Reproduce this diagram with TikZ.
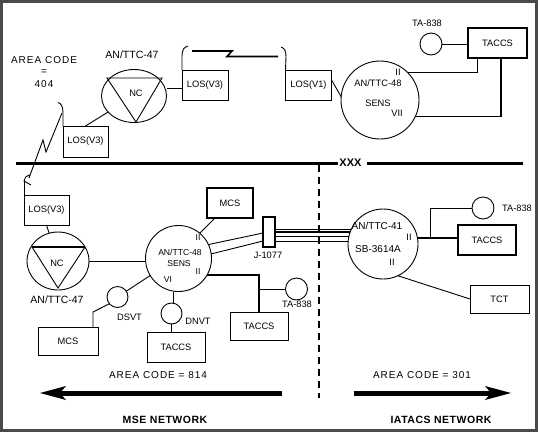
\documentclass[tikz,border=0pt]{standalone}
\usepackage{fontspec}
\setmainfont{Liberation Sans}
\usetikzlibrary{shapes.geometric}
\definecolor{framegray}{HTML}{4A4A4A}
\begin{document}
\begin{tikzpicture}[x=1pt,y=-1pt,
  every node/.style={inner sep=0pt,outer sep=0pt,font=\fontsize{9.3}{10}\selectfont},
  box/.style={draw,line width=0.9pt},
  tbox/.style={draw,line width=1.8pt},
  ring/.style={draw,circle,line width=0.9pt},
  oval/.style={draw,ellipse,line width=0.9pt},
  wire/.style={line width=0.9pt},
  twire/.style={line width=1.8pt},
  big/.style={font=\fontsize{10}{11}\selectfont\addfontfeatures{LetterSpace=10}},
  mid/.style={font=\fontsize{10}{11}\selectfont},
  ttc/.style={font=\fontsize{10.5}{11}\selectfont},
  small/.style={font=\fontsize{8.6}{9}\selectfont},
  net/.style={font=\fontsize{10.5}{12}\selectfont\bfseries\addfontfeatures{LetterSpace=5}}]
\useasboundingbox (0,0) rectangle (538,432);
\fill[white] (0,0) rectangle (538,432);
\draw[framegray,line width=3pt] (1.5,1.5) rectangle (536.5,430.5);

% ---------- upper part ----------
\node[big] (ac1) at (44,60) {AREA CODE};
\node[big] (ac2) at (44,72) {=};
\node[big] (ac3) at (44,84) {404};

\node[oval,minimum width=65pt,minimum height=53pt] (ncA) at (134,96) {};
\draw[wire] ([shift={(-27,-18)}]ncA.center) -- ([shift={(28,-18)}]ncA.center) -- ([shift={(2,26)}]ncA.center) -- cycle;
\node (ncAl) at (136,93) {NC};
\node[ttc] (ncAt) at (132,55) {AN/TTC-47};

\node[box,minimum width=45pt,minimum height=31pt] (losA) at (85.5,141.5) {LOS(V3)};
\node[box,minimum width=46pt,minimum height=30pt] (losB) at (205,85) {LOS(V3)};
\node[box,minimum width=46pt,minimum height=30pt] (losC) at (308.5,85) {LOS(V1)};

\node[ring,minimum size=78pt] (sensA) at (380,100) {};
\node (sAii) at (398,72) {II};
\node (sAn) at (378,83) {AN/TTC-48};
\node (sAs) at (378,103) {SENS};
\node (sAvii) at (397,113) {VII};

\node[ring,minimum size=22pt] (ta1) at (431,44) {};
\node (ta1l) at (427,23) {TA-838};
\node[tbox,minimum width=59pt,minimum height=30pt] (taccsA) at (497.5,43) {TACCS};

\draw[wire] (losA.north) -- (ncA);
\draw[wire] ([yshift=-3pt]losB.west) -- ([yshift=-3pt]losB.west -| ncA.east);
\draw[wire] ([yshift=5pt]losC.east) -- (sensA.175);
\draw[wire] (ta1.east) -- (ta1.east -| taccsA.west);
\draw[wire] (sensA.45) -| ([xshift=-20.5pt]taccsA.south);
\draw[twire] (sensA.-25) -| ([xshift=3.5pt]taccsA.south);

% radio link between the upper LOS(V3) and LOS(V1)
\draw[wire] (losB.north west) -- (182,56) .. controls (182,50) and (184,47) .. (188,46);
\draw[line width=1.6pt] (192,51) -- (232,51) -- (227,56.5) -- (278,56.5);
\draw[wire] (281,47) .. controls (285,48) and (286,52) .. (286,57) -- (losC.north west);

% ---------- divider ----------
\node[font=\fontsize{11}{12}\selectfont\bfseries] (xxx) at (350.5,163) {XXX};
\coordinate (dL) at (16,163.5);
\coordinate (dR) at (523,163.5);
\draw[line width=2.4pt] (dL) -- ([xshift=-1pt]dL -| xxx.west);
\draw[line width=2.4pt] (dR) -- ([xshift=5pt]dR -| xxx.east);
\coordinate (vT) at (319,165);
\coordinate (vB) at (319,398);
\draw[line width=2pt,dash pattern=on 7pt off 5pt] (vT) -- (vB);

% ---------- lower left ----------
\node[box,minimum width=45pt,minimum height=30pt] (losD) at (46.5,210) {LOS(V3)};

% radio link between the two LOS(V3) across the divider
\draw[wire] (losA.north west) -- (63,113) .. controls (63,106) and (61,103.5) .. (58,102.5);
\draw[wire] (62,113) -- (46,152) -- (43,140) -- (29,178);
\draw[wire] (30,175) .. controls (26,176) and (24,178) .. (24,181) -- (31,185);
\draw[wire] (24,181) -- (losD.north west);

\node[oval,minimum width=62pt,minimum height=58pt] (ncB) at (58,261) {};
\draw[wire] ([shift={(27,-14)}]ncB.center) -- ([shift={(0,27)}]ncB.center) -- ([shift={(-26,-14)}]ncB.center);
\draw[twire] ([shift={(-26,-14)}]ncB.center) -- ([shift={(27,-14)}]ncB.center);
\node (ncBl) at (57,263) {NC};
\node[ttc] (ncBt) at (57,300) {AN/TTC-47};

\node[ring,minimum size=66pt] (sensB) at (178.5,258.5) {};
\node[small] (sBii1) at (198,238) {II};
\node[small] (sBn) at (180,252) {AN/TTC-48};
\node[small] (sBs) at (179,264) {SENS};
\node[small] (sBii2) at (198,272) {II};
\node[small] (sBvi) at (168,280) {VI};

\node[tbox,minimum width=46pt,minimum height=30pt] (mcsA) at (230,203) {MCS};
\node[tbox,minimum width=12pt,minimum height=30pt] (jbox) at (269,232) {};
\node (jl) at (268,255) {J-1077};

\node[box,minimum width=58pt,minimum height=28pt] (taccsC) at (259,326) {TACCS};
\node[ring,minimum size=22pt] (ta3) at (296.5,289) {};
\node (ta3l) at (297,304) {TA-838};

\node[ring,minimum size=21pt] (dsvt) at (117.5,297) {};
\node (dsvtl) at (129.5,317) {DSVT};
\node[ring,minimum size=21pt] (dnvt) at (171.5,313.5) {};
\node (dnvtl) at (198,321) {DNVT};
\node[box,minimum width=60pt,minimum height=28pt] (mcsB) at (68,341) {MCS};
\node[box,minimum width=58pt,minimum height=30pt] (taccsD) at (176,347) {TACCS};

\draw[wire] (losD.south) -- (ncB);
\draw[wire] (ncB.east) -- (ncB.east -| sensB.west);
\draw[wire] (sensB.50) -- ([xshift=-15pt]mcsA.south);
\draw[wire] (sensB.25) -- ([yshift=-1pt]jbox.west);
\draw[wire] (sensB.8) -- ([yshift=-9pt]jbox.west);
\draw[twire] (sensB.-30) -| (taccsC.north);
\draw[wire] (ta3.west) -- (ta3.west -| taccsC.north);
\draw[wire] (sensB.211) -- (dsvt);
\draw[wire] (dsvt.220) -- ([xshift=25pt,yshift=15pt]mcsB.north) -- ([xshift=25pt]mcsB.north);
\draw[wire] (dnvt.78) -- (dnvt.78 |- sensB.south);
\draw[wire] (dnvt.south) -- (dnvt.south |- taccsD.north);

% ---------- lower right ----------
\node[ring,minimum size=70pt] (c41) at (383,244) {};
\node[mid] (c41n) at (377,226) {AN/TTC-41};
\node (c41ii1) at (409,237) {II};
\node[mid] (c41s) at (378,249) {SB-3614A};
\node (c41ii2) at (392,262) {II};

\node[tbox,minimum width=58pt,minimum height=30pt] (taccsB) at (487,240) {TACCS};
\node[ring,minimum size=22pt] (ta2) at (483,208) {};
\node (ta2l) at (517,208) {TA-838};
\node[box,minimum width=59pt,minimum height=28pt] (tct) at (499.5,299) {TCT};

\draw[wire] (c41.155) -- (c41.155 -| jbox.east);
\draw[line width=1.6pt] (c41.160) -- (c41.160 -| jbox.east);
\draw[wire] (c41.168) -- (c41.168 -| jbox.east);
\draw[wire] (c41.175) -- (c41.175 -| jbox.east);
\draw[twire] (c41.10) -- (c41.10 -| taccsB.west);
\coordinate (br) at (430,238);
\draw[wire] (br |- c41.10) |- (ta2.west);
\draw[wire] (c41.-65) -- (tct.west);

% ---------- bottom ----------
\node[big] (acL) at (158,375) {AREA CODE = 814};
\node[big] (acR) at (422,375) {AREA CODE = 301};
\coordinate (aLtip) at (40,393);
\coordinate (aLend) at (282,393);
\draw[line width=5pt] (aLend) -- (60,393);
\fill (aLtip) -- (66,386) -- (60,393) -- (66,400) -- cycle;
\coordinate (aRtip) at (511,393);
\coordinate (aRend) at (354,393);
\draw[line width=5pt] (aRend) -- (491,393);
\fill (aRtip) -- (485,386) -- (491,393) -- (485,400) -- cycle;
\node[net] (mse) at (165,420) {MSE NETWORK};
\node[net] (iat) at (441,420) {IATACS NETWORK};
\end{tikzpicture}
\end{document}
